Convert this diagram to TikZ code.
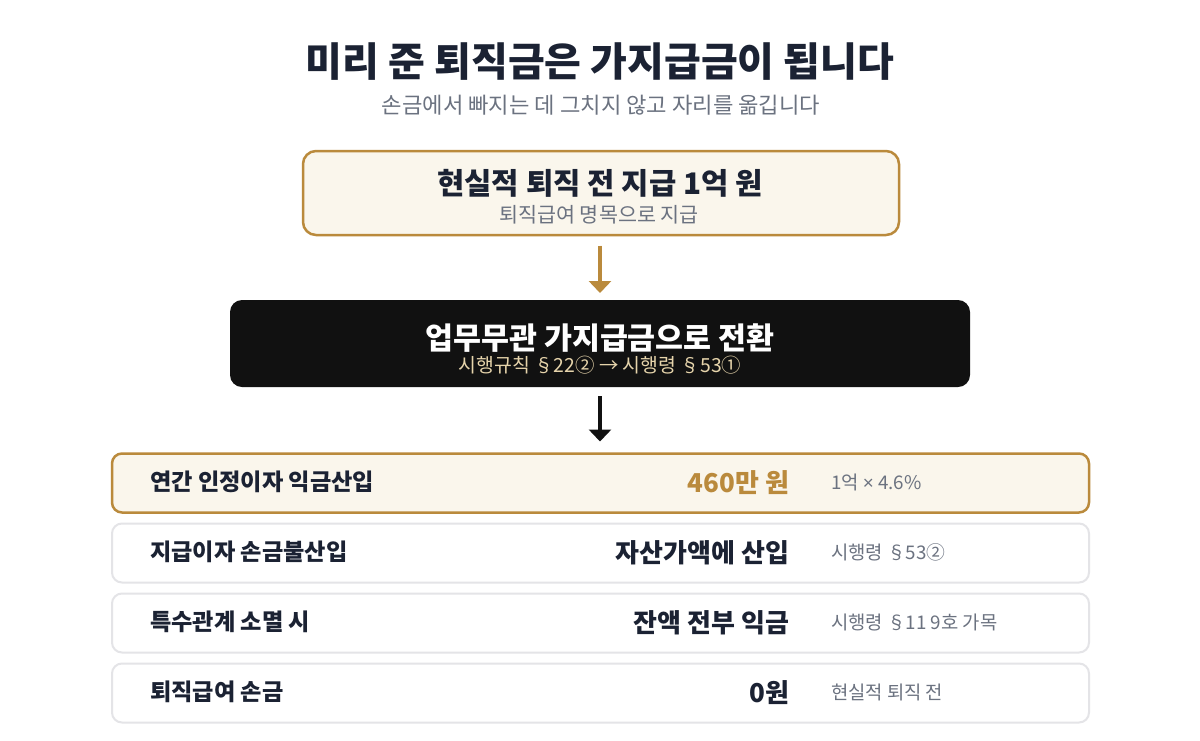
\documentclass[tikz,border=0pt]{standalone}
\usepackage{fontspec}
\setmainfont{Noto Sans CJK KR}
\newfontfamily\heavyfont{Noto Sans CJK KR Black}
\newfontfamily\latinfont{Liberation Sans}
\usetikzlibrary{arrows.meta}
\definecolor{ink}{HTML}{1B2233}
\definecolor{muted}{HTML}{6B7280}
\definecolor{gold}{HTML}{BA8A3C}
\definecolor{cream}{HTML}{FAF6EC}
\definecolor{rule}{HTML}{E4E4E7}
\definecolor{nearblack}{HTML}{111111}
\definecolor{sand}{HTML}{E6D4AB}
\tikzset{
  txt/.style={inner sep=0pt, outer sep=0pt, anchor=base},
  goldbox/.style={draw=gold, line width=2.5pt, fill=cream, rounded corners=13pt, inner sep=0pt},
  darkbox/.style={fill=nearblack, rounded corners=12pt, inner sep=0pt},
  rowbox/.style={draw=rule, line width=2pt, fill=white, rounded corners=10pt, inner sep=0pt, minimum width=977pt, minimum height=59pt},
  hirow/.style={rowbox, draw=gold, line width=2.5pt, fill=cream},
  label/.style={txt, anchor=base west, font=\bfseries\fontsize{23.2}{27}\selectfont, text=ink},
  value/.style={txt, anchor=base east, font=\bfseries\fontsize{26}{30}\selectfont, text=ink},
  note/.style={txt, anchor=base west, font=\fontsize{18.8}{22}\selectfont, text=muted},
  flow/.style={line width=4pt, -{Triangle[width=22pt,length=12pt]}},
}
\begin{document}
\begin{tikzpicture}[x=1pt,y=-1pt]
\useasboundingbox[fill=white] (0,0) rectangle (1200,740);
% title
\node[txt, anchor=base, font=\heavyfont\fontsize{40}{46}\selectfont, text=ink] (title) at (600,76.5) {미리 준 퇴직금은 가지급금이 됩니다};
\node[txt, anchor=base, font=\fontsize{22.2}{26}\selectfont, text=muted] (subtitle) at (601,113) {손금에서 빠지는 데 그치지 않고 자리를 옮깁니다};
% box 1
\node[goldbox, minimum width=596pt, minimum height=84pt] (b1) at (601,193) {};
\node[txt, anchor=base, font=\bfseries\fontsize{29.7}{34}\selectfont, text=ink] (b1t) at (600,194) {현실적 퇴직 전 지급 1억 원};
\node[txt, anchor=base, font=\fontsize{20.7}{24}\selectfont, text=muted] (b1s) at (599,222) {퇴직급여 명목으로 지급};
% box 2
\node[darkbox, minimum width=740pt, minimum height=87pt] (b2) at (600,343.5) {};
\node[txt, anchor=base, font=\bfseries\fontsize{30.4}{35}\selectfont, text=white] (b2t) at (600,349) {업무무관 가지급금으로 전환};
\node[txt, anchor=base, font=\fontsize{19.4}{23}\selectfont, text=sand] (b2s) at (600,372.5) {시행규칙 §22② → 시행령 §53①};
% arrows
\coordinate (a1s) at (600,245.5);
\coordinate (a1e) at (600,293);
\draw[flow, draw=gold, fill=gold] (a1s) -- (a1e);
\coordinate (a2s) at (600,396);
\coordinate (a2e) at (600,441.5);
\draw[flow, draw=nearblack, fill=nearblack] (a2s) -- (a2e);
% rows
\node[hirow] (r1) at (600.5,483) {};
\node[rowbox] (r2) at (600.5,553) {};
\node[rowbox] (r3) at (600.5,623) {};
\node[rowbox] (r4) at (600.5,693) {};
\node[label] (r1l) at (150,490) {연간 인정이자 익금산입};
\node[value, text=gold] (r1v) at (789,492) {460만 원};
\node[note] (r1n) at (831,489.5) {1억 {\latinfont ×} 4.6\%};
\node[label] (r2l) at (150,560) {지급이자 손금불산입};
\node[value] (r2v) at (789,562) {자산가액에 산입};
\node[note] (r2n) at (831,559.5) {시행령 §53②};
\node[label] (r3l) at (150,630) {특수관계 소멸 시};
\node[value] (r3v) at (789,632) {잔액 전부 익금};
\node[note] (r3n) at (831,629.5) {시행령 §11 9호 가목};
\node[label] (r4l) at (150,700) {퇴직급여 손금};
\node[value] (r4v) at (789,702) {0원};
\node[note] (r4n) at (831,699.5) {현실적 퇴직 전};
\end{tikzpicture}
\end{document}
